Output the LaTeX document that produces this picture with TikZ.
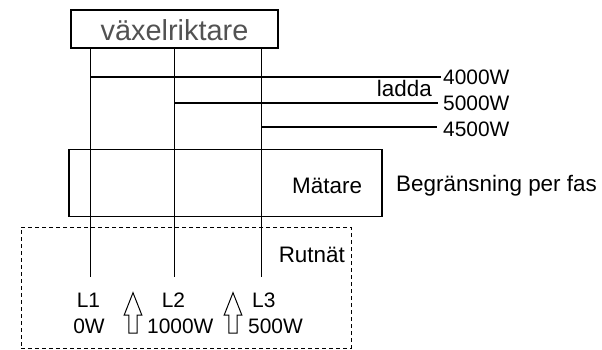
\documentclass[tikz,border=0pt]{standalone}
\usepackage{fontspec}
\setmainfont{Liberation Sans}

\tikzset{
  wire/.style={line width=1.4pt},
  numlabel/.style={inner sep=0pt, font=\fontsize{21}{24}\selectfont},
  wordlabel/.style={inner sep=0pt, font=\fontsize{22.5}{26}\selectfont},
  flowarrow/.style={line width=1pt, line join=miter},
}

\begin{document}
\begin{tikzpicture}[x=1bp, y=-1bp]
    \useasboundingbox (0,0) rectangle (602,349);

    %% =========================================================
    %% BOXES — inverter on top, meter in the middle, grid dashed
    %% =========================================================
    \node[draw, wire, minimum width=207bp, minimum height=38bp, inner sep=0pt]
      (inv) at (174.5,29) {};
    \node[inner sep=0pt, anchor=base, text=black!68, font=\fontsize{29}{32}\selectfont]
      (invname) at (174.5,40.5) {växelriktare};

    \node[draw, wire, minimum width=313bp, minimum height=67bp, inner sep=0pt]
      (meter) at (225.5,183) {};

    \node[draw, line width=1pt, dash pattern=on 4bp off 3bp,
          minimum width=330bp, minimum height=121bp, inner sep=0pt]
      (grid) at (186,287.5) {};

    %% PHASE WIRES (end points inside the grid box)
    \coordinate (e1) at (90.5,276.7);
    \coordinate (e2) at (174.5,276.7);
    \coordinate (e3) at (261.5,276.7);

    \foreach \e in {e1,e2,e3}{
      \draw[wire] (\e |- inv.south) -- (\e);
    }

    %% CHARGE LEVELS
    \node[numlabel, anchor=base west] (w1) at (443,84)  {4000W};
    \node[numlabel, anchor=base west] (w2) at (443,110) {5000W};
    \node[numlabel, anchor=base west] (w3) at (443,136) {4500W};
    \node[wordlabel, anchor=base east] (charge) at (432,96.7) {ladda};

    \draw[wire] (e1 |- w1.west) -- ([xshift=-2bp]w1.west);
    \draw[wire] (e2 |- w2.west) -- ([xshift=-5bp]w2.west);
    \draw[wire] ([yshift=2bp]e3 |- w3.west) -- ([xshift=-6bp, yshift=2bp]w3.west);

    %% METER TEXTS
    \node[wordlabel, anchor=base west] (metername) at (292,193) {Mätare};
    \node[wordlabel, anchor=base west] (limit) at (396,191) {Begränsning per fas};

    %% GRID TEXTS
    \node[wordlabel, anchor=base east] (gridname) at (345,262) {Rutnät};

    \node[numlabel, anchor=base] (l1) at (88.5,307) {L1};
    \node[numlabel, anchor=base] (l2) at (173.5,307) {L2};
    \node[numlabel, anchor=base west] (l3) at (252,307) {L3};
    \node[numlabel, anchor=base] (p1) at (89,333) {0W};
    \node[numlabel, anchor=base west] (p2) at (147,333) {1000W};
    \node[numlabel, anchor=base west] (p3) at (248,333) {500W};

    %% HOLLOW ARROWS (grid feed)
    \foreach \ax in {133,233}{
      \draw[flowarrow] (\ax,292.7) -- (\ax+8.8,315) -- (\ax+4.2,315)
        -- (\ax+4.2,333) -- (\ax-4.2,333) -- (\ax-4.2,315) -- (\ax-8.8,315) -- cycle;
    }

\end{tikzpicture}
\end{document}
